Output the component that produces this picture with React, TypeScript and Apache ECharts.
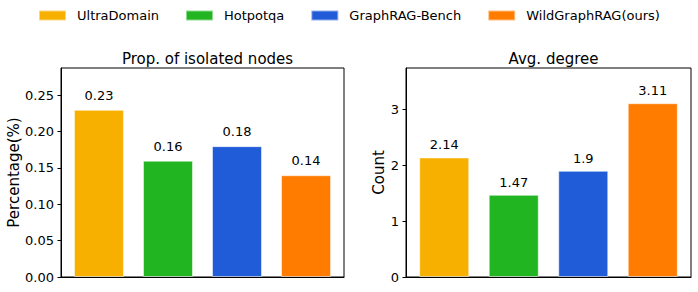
import React, { useEffect, useRef } from "react";
import * as echarts from "echarts";

const datasets = ["UltraDomain", "Hotpotqa", "GraphRAG-Bench", "WildGraphRAG(ours)"];
const colors = ["#F7B000", "#21B521", "#215CD8", "#FF7C00"];
const isolatedProp = [0.23, 0.16, 0.18, 0.14];
const avgDegree = [2.14, 1.47, 1.9, 3.11];
const leftTicks = [0, 0.05, 0.1, 0.15, 0.2, 0.25];
const rightTicks = [0, 1, 2, 3];

const FONT = "DejaVu Sans";

export default function App() {
  const ref = useRef<HTMLDivElement>(null);
  useEffect(() => {
    if (!ref.current) return;
    const chart = echarts.init(ref.current, undefined, { renderer: "svg" });
    const xAxisBase = (gi: number) => ({
      type: "value" as const,
      gridIndex: gi,
      min: -0.55,
      max: 3.55,
      axisLabel: { show: false },
      axisTick: { show: false },
      splitLine: { show: false },
      axisLine: { show: true, onZero: false, lineStyle: { color: "#000", width: 1 } },
    });
    const yAxisBase = (gi: number, max: number, ticks: number[], name: string, gap: number, fmt: (v: number) => string) => ({
      type: "value" as const,
      gridIndex: gi,
      min: 0,
      max,
      name,
      nameLocation: "middle" as const,
      nameGap: gap,
      nameTextStyle: { fontFamily: FONT, fontSize: 15, color: "#000" },
      axisLine: { show: true, onZero: false, lineStyle: { color: "#000", width: 1 } },
      axisTick: { show: true, length: 3.5, customValues: ticks, lineStyle: { color: "#000" } },
      axisLabel: {
        customValues: ticks,
        fontFamily: FONT,
        fontSize: 13,
        color: "#000",
        margin: 7,
        formatter: (v: number) => fmt(v),
      },
      splitLine: { show: false },
    });
    const makeSeries = (gi: number, values: number[], dist: number) =>
      values.map((v, i) => ({
        type: "bar" as const,
        name: datasets[i],
        xAxisIndex: gi,
        yAxisIndex: gi,
        barWidth: 50,
        barGap: "-100%",
        data: [[i, v]],
        itemStyle: { color: colors[i], borderColor: "rgba(255,255,255,0.5)", borderWidth: 1 },
        label: {
          show: true,
          position: "top" as const,
          distance: dist,
          fontFamily: FONT,
          fontSize: 13,
          color: "#000",
          formatter: (p: any) => String(p.value[1]),
        },
      }));
    chart.setOption({
      animation: false,
      backgroundColor: "#fff",
      textStyle: { fontFamily: FONT },
      title: [
        { text: "Prop. of isolated nodes", left: 202.5, top: 46, textAlign: "center", textStyle: { fontFamily: FONT, fontSize: 15, fontWeight: "normal", color: "#000" } },
        { text: "Avg. degree", left: 548.5, top: 46, textAlign: "center", textStyle: { fontFamily: FONT, fontSize: 15, fontWeight: "normal", color: "#000" } },
      ],
      legend: {
        data: datasets,
        left: 33,
        top: 4,
        itemWidth: 27,
        itemHeight: 10,
        itemGap: 26,
        icon: "rect",
        formatter: (name: string) => `{n|${name}}`,
        textStyle: {
          fontFamily: FONT,
          fontSize: 13,
          color: "#000",
          rich: { n: { fontFamily: FONT, fontSize: 13, color: "#000", padding: [0, 0, 0, 6] } },
        },
      },
      grid: [
        { left: 61, top: 68, width: 283, height: 209, show: true, borderColor: "#000", borderWidth: 1, backgroundColor: "transparent" },
        { left: 406, top: 68, width: 285, height: 209, show: true, borderColor: "#000", borderWidth: 1, backgroundColor: "transparent" },
      ],
      xAxis: [xAxisBase(0), xAxisBase(1)],
      yAxis: [
        yAxisBase(0, 0.2875, leftTicks, "Percentage(%)", 40, (v) => v.toFixed(2)),
        yAxisBase(1, 3.74, rightTicks, "Count", 20, (v) => String(v)),
      ],
      series: [...makeSeries(0, isolatedProp, 8), ...makeSeries(1, avgDegree, 6)],
    });
    return () => chart.dispose();
  }, []);
  return <div ref={ref} style={{ position: "absolute", left: 0, top: 0, width: 698, height: 292 }} />;
}
